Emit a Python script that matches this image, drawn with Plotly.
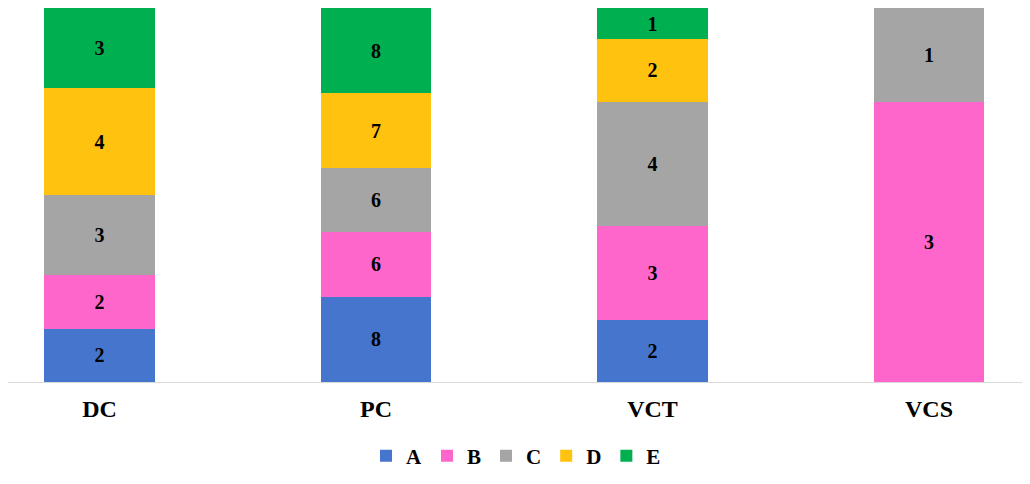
import plotly.graph_objects as go

categories = ["DC", "PC", "VCT", "VCS"]
series_names = ["A", "B", "C", "D", "E"]
A = [2, 8, 2, None]
B = [2, 6, 3, 3]
C = [3, 6, 4, 1]
D = [4, 7, 2, None]
E = [3, 8, 1, None]
colors = ["#4575CC", "#FF66CC", "#A5A5A5", "#FFC20E", "#00B050"]

series = [A, B, C, D, E]
fig = go.Figure()
for name, vals, col in zip(series_names, series, colors):
    fig.add_trace(go.Bar(
        x=categories, y=vals, name=name, width=0.4,
        marker=dict(color=col, line=dict(width=0)),
        text=[str(v) if v else "" for v in vals],
        textposition="inside", insidetextanchor="middle",
        textfont=dict(family="Liberation Serif", size=20, color="black", weight="bold"),
        constraintext="none",
    ))

fig.update_layout(
    barmode="stack", barnorm="percent",
    width=1030, height=484,
    margin=dict(l=0, r=14, t=0, b=110),
    plot_bgcolor="white", paper_bgcolor="white",
    font=dict(family="Liberation Serif", color="black"),
    showlegend=True,
    legend=dict(orientation="h", x=0.5, xanchor="center", y=-0.198, yanchor="middle",
                traceorder="normal",
                font=dict(size=21, family="Liberation Serif", color="black", weight="bold"),
                itemwidth=30, tracegroupgap=0),
    xaxis=dict(range=[-0.3309, 3.3436], showline=True, linecolor="#d9d9d9", linewidth=1,
               ticks="", tickfont=dict(size=24, family="Liberation Serif", weight="bold"),
               ticklabelstandoff=5),
    yaxis=dict(range=[0, 100], showticklabels=False, showgrid=True, gridcolor="#d9d9d9",
               dtick=100, zeroline=False, showline=False),
)
fig.write_html("out.html")
